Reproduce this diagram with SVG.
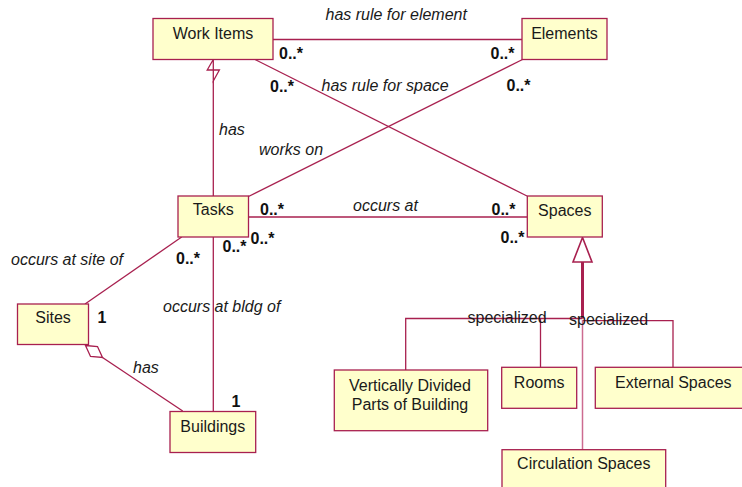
<svg xmlns="http://www.w3.org/2000/svg" width="742" height="487" viewBox="0 0 742 487">
<style>
.box{fill:#ffffcc;stroke:#a8204f;stroke-width:1.3}
.t{font-family:"Liberation Sans",Arial,sans-serif;font-size:16px;fill:#1a1a1a;text-anchor:middle}
.lbl{font-family:"Liberation Sans",Arial,sans-serif;font-size:16px;font-style:italic;fill:#1a1a1a}
.m{font-family:"Liberation Sans",Arial,sans-serif;font-size:16px;font-weight:bold;fill:#111}
.s{font-family:"Liberation Sans",Arial,sans-serif;font-size:16px;fill:#1a1a1a}
.ln{stroke:#a8204f;stroke-width:1.3;fill:none}
.dia{stroke:#a8204f;stroke-width:1.3;fill:#fff}
</style>
<rect width="742" height="487" fill="#fff"/>
<g id="connectors">
<line class="ln" x1="273" y1="39.5" x2="522" y2="39.5"/>
<line class="ln" x1="255" y1="59.5" x2="527" y2="196"/>
<line class="ln" x1="522.5" y1="59.5" x2="248.5" y2="196.5"/>
<line class="ln" x1="213.3" y1="81" x2="213.3" y2="196"/>
<polygon class="dia" points="213.3,59.5 207.2,70 219.4,70 213.3,81"/>
<line class="ln" x1="248" y1="217" x2="527" y2="217"/>
<line class="ln" x1="181.7" y1="237" x2="85" y2="304"/>
<line class="ln" x1="213.3" y1="237" x2="213.3" y2="411.5"/>
<line class="ln" x1="102.5" y1="357.5" x2="182.7" y2="411"/>
<polygon class="dia" points="85.5,345.5 97.5,346.6 102.5,357.5 90.5,356.4"/>
<line x1="582.5" y1="262" x2="582.5" y2="318.5" stroke="#a8204f" stroke-width="3"/>
<polygon points="582.5,237.5 573,262 592,262" fill="#fff" stroke="#a8204f" stroke-width="1.6"/>
<polyline class="ln" points="405.7,370 405.7,318.5 582.5,318.5"/>
<line class="ln" x1="540.5" y1="318.5" x2="540.5" y2="367.5"/>
<polyline class="ln" points="582.5,320.7 673,320.7 673,367.5"/>
<line x1="582.5" y1="320" x2="582.5" y2="450" stroke="#cc6b90" stroke-width="1.5"/>
</g>
<g id="labels">
<text class="lbl" x="325.5" y="20">has rule for element</text>
<text class="lbl" x="321.5" y="90.5">has rule for space</text>
<text class="lbl" x="219" y="135">has</text>
<text class="lbl" x="259" y="155">works on</text>
<text class="lbl" x="353" y="210.5">occurs at</text>
<text class="lbl" x="11" y="265">occurs at site of</text>
<text class="lbl" x="163" y="311.5">occurs at bldg of</text>
<text class="lbl" x="133" y="372.5">has</text>
<text class="m" x="279" y="58.5">0..*</text>
<text class="m" x="490.5" y="58.5">0..*</text>
<text class="m" x="270" y="92">0..*</text>
<text class="m" x="506.5" y="91">0..*</text>
<text class="m" x="260" y="215">0..*</text>
<text class="m" x="491.5" y="215">0..*</text>
<text class="m" x="250.5" y="243.5">0..*</text>
<text class="m" x="500.5" y="242.5">0..*</text>
<text class="m" x="222.5" y="252">0..*</text>
<text class="m" x="176" y="263.5">0..*</text>
<text class="m" x="97.5" y="322.5">1</text>
<text class="m" x="231.5" y="407">1</text>
<text class="s" x="467.5" y="322.5">specialized</text>
<text class="s" x="569" y="325">specialized</text>
</g>
<g id="work-items"><rect class="box" x="153" y="18.5" width="120" height="41"/><text class="t" x="213" y="38.5">Work Items</text></g>
<g id="elements"><rect class="box" x="522" y="18.5" width="85" height="41"/><text class="t" x="564.5" y="38.5">Elements</text></g>
<g id="tasks"><rect class="box" x="178" y="196" width="70.5" height="41"/><text class="t" x="213.3" y="215">Tasks</text></g>
<g id="spaces"><rect class="box" x="527.3" y="196" width="75" height="41"/><text class="t" x="564.8" y="215.5">Spaces</text></g>
<g id="sites"><rect class="box" x="17.5" y="304" width="71" height="40.5"/><text class="t" x="53" y="323.3">Sites</text></g>
<g id="buildings"><rect class="box" x="170" y="411.5" width="85.7" height="41"/><text class="t" x="212.8" y="431.5">Buildings</text></g>
<g id="vertically-divided"><rect class="box" x="334.3" y="370" width="153.4" height="60.7"/><text class="t" x="410" y="390.5">Vertically Divided</text><text class="t" x="410" y="410">Parts of Building</text></g>
<g id="rooms"><rect class="box" x="501.7" y="367.3" width="75" height="41"/><text class="t" x="539.2" y="387.5">Rooms</text></g>
<g id="external-spaces"><rect class="box" x="595.3" y="367.3" width="156" height="41"/><text class="t" x="673.3" y="387.5">External Spaces</text></g>
<g id="circulation-spaces"><rect class="box" x="502" y="449.7" width="163.7" height="41"/><text class="t" x="583.8" y="469">Circulation Spaces</text></g>
</svg>
